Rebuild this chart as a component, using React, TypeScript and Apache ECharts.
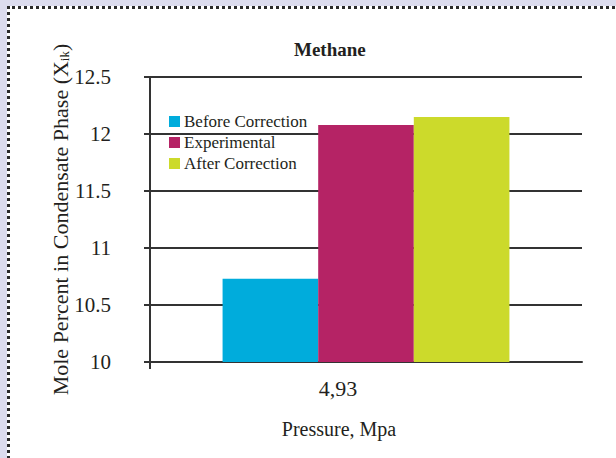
import React, { useEffect, useRef } from "react";
import * as echarts from "echarts";

const categories = ["4,93"];
const beforeCorrection = [10.73];
const experimental = [12.08];
const afterCorrection = [12.15];
const seriesNames = ["Before Correction", "Experimental", "After Correction"];
const seriesColors = ["#00acdc", "#b52365", "#ccda2b"];
const yMin = 10;
const yMax = 12.5;
const yStep = 0.5;

const FONT = "'Liberation Serif', 'DejaVu Serif', serif";
const INK = "#231f20";

export default function App() {
  const ref = useRef<HTMLDivElement>(null);

  useEffect(() => {
    if (!ref.current) return;
    const chart = echarts.init(ref.current, undefined, { renderer: "svg" });
    const values = [beforeCorrection, experimental, afterCorrection];
    chart.setOption({
      animation: false,
      backgroundColor: "transparent",
      title: {
        text: "Methane",
        left: 289,
        top: 35,
        textStyle: { fontFamily: FONT, fontSize: 19, fontWeight: "bold", color: INK },
      },
      legend: {
        orient: "vertical",
        left: 164,
        top: 108,
        itemWidth: 11,
        itemHeight: 11,
        itemGap: 4,
        icon: "rect",
        data: seriesNames,
        textStyle: { fontFamily: FONT, fontSize: 17, color: INK, padding: [0, 0, 0, -1] },
      },
      grid: { left: 150, top: 77, right: 34, bottom: 96, containLabel: false },
      xAxis: {
        type: "category",
        data: categories,
        boundaryGap: true,
        axisLine: { show: true, lineStyle: { color: "#333", width: 2 } },
        axisTick: { show: false },
        axisLabel: {
          margin: 15,
          fontFamily: FONT,
          fontSize: 22,
          color: INK,
          padding: [0, 56, 0, 0],
        },
        name: "Pressure, Mpa",
        nameLocation: "middle",
        nameGap: 57,
        nameMoveOverlap: false,
        nameTextStyle: { fontFamily: FONT, fontSize: 20, color: INK, padding: [0, 54, 0, 0] },
      },
      yAxis: {
        type: "value",
        min: yMin,
        max: yMax,
        interval: yStep,
        axisLine: { show: true, lineStyle: { color: "#333", width: 2 } },
        axisTick: { show: true, length: 6, lineStyle: { color: "#333", width: 2 } },
        splitLine: { show: true, lineStyle: { color: "#333", width: 2 } },
        axisLabel: {
          margin: 39,
          fontFamily: FONT,
          fontSize: 21,
          color: INK,
          formatter: (v: number) => String(v),
        },
        name: "Mole Percent in Condensate Phase (X{sub|ik})",
        nameLocation: "middle",
        nameGap: 79,
        nameMoveOverlap: false,
        nameTextStyle: {
          fontFamily: FONT,
          fontSize: 22,
          color: INK,
          rich: {
            sub: { fontFamily: FONT, fontSize: 13, color: INK, verticalAlign: "bottom", padding: [9, 0, 0, 0] },
          },
        },
      },
      series: seriesNames.map((name, i) => ({
        name,
        type: "bar",
        data: values[i],
        barGap: "0%",
        barCategoryGap: "33.6%",
        itemStyle: { color: seriesColors[i] },
      })),
      graphic: [
        {
          type: "line",
          shape: { x1: 150, y1: 362, x2: 150, y2: 369 },
          style: { stroke: "#333", lineWidth: 2 },
          z: 10,
        },
      ],
    });
    return () => chart.dispose();
  }, []);

  return (
    <div
      style={{
        position: "fixed",
        left: 0,
        top: 0,
        width: 616,
        height: 458,
        background: "#dcdcee",
        overflow: "hidden",
      }}
    >
      <div
        style={{
          position: "absolute",
          left: 7,
          top: 6,
          width: 640,
          height: 480,
          background: "#ffffff",
          borderTop: "3px dotted #2a2a2a",
          borderLeft: "3px dotted #2a2a2a",
        }}
      />
      <div ref={ref} style={{ position: "absolute", left: 0, top: 0, width: 616, height: 458 }} />
    </div>
  );
}
